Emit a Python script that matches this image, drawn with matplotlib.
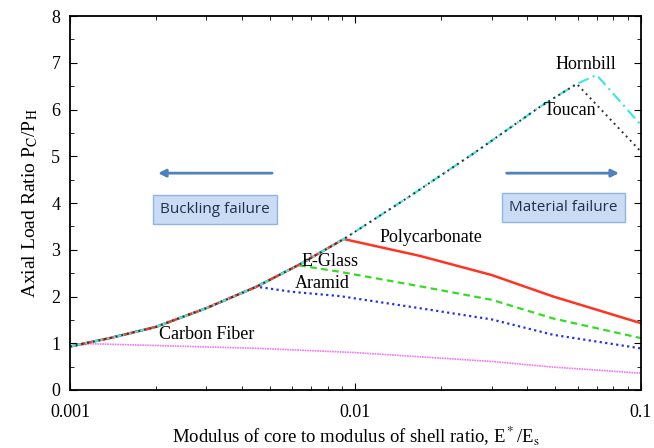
import numpy as np
import matplotlib.pyplot as plt
from matplotlib.ticker import FixedLocator, MultipleLocator, NullFormatter

plt.rcParams['font.family'] = ['Liberation Serif', 'DejaVu Serif']
plt.rcParams['mathtext.fontset'] = 'stix'

# curva de flambagem comum (parte ascendente)
buckling_x = [0.001, 0.0014, 0.002, 0.003, 0.0045, 0.0063, 0.0091, 0.0151, 0.0259, 0.0443, 0.0596, 0.070]
buckling_y = [0.93, 1.12, 1.35, 1.75, 2.21, 2.67, 3.23, 4.10, 5.06, 6.06, 6.55, 6.74]

# ramos de falha do material
hornbill_x = [0.070, 0.1]
hornbill_y = [6.74, 5.67]
toucan_x = [0.0596, 0.1]
toucan_y = [6.55, 5.10]
poly_x = [0.0091, 0.0168, 0.03, 0.0493, 0.1]
poly_y = [3.23, 2.87, 2.46, 2.00, 1.43]
eglass_x = [0.0063, 0.0088, 0.0168, 0.03, 0.0493, 0.1]
eglass_y = [2.67, 2.53, 2.22, 1.93, 1.53, 1.11]
aramid_x = [0.0045, 0.006, 0.0088, 0.0168, 0.03, 0.0493, 0.1]
aramid_y = [2.21, 2.10, 2.01, 1.75, 1.51, 1.18, 0.89]
carbon_x = [0.00118, 0.0046, 0.01, 0.0168, 0.03, 0.0493, 0.1]
carbon_y = [0.99, 0.89, 0.80, 0.71, 0.61, 0.49, 0.36]


def serie(bx, by):
    # junta o trecho de flambagem ate o ponto de ruptura com o ramo
    bx0 = bx[0]
    xs = [x for x in buckling_x if x < bx0]
    ys = buckling_y[:len(xs)]
    return np.array(xs + list(bx)), np.array(ys + list(by))


fig = plt.figure(figsize=(6.54, 4.48), dpi=100)
ax = fig.add_axes([0.107, 0.1295, 0.873, 0.8345])

x, y = serie(carbon_x, carbon_y)
ax.plot(x, y, color='#ee77ee', lw=1.2, ls=(0, (1, 0.5)))
x, y = serie(aramid_x, aramid_y)
ax.plot(x, y, color='#2233ee', lw=1.6, ls=(0, (1, 1.5)))
x, y = serie(eglass_x, eglass_y)
ax.plot(x, y, color='#33dd22', lw=1.6, ls=(0, (3, 2)))
x, y = serie(poly_x, poly_y)
ax.plot(x, y, color='#ff3322', lw=1.8)
x, y = serie(hornbill_x, hornbill_y)
ax.plot(x, y, color='#44e5e5', lw=1.6, ls=(0, (5, 2, 1, 2)))
x, y = serie(toucan_x, toucan_y)
ax.plot(x, y, color='#333333', lw=1.4, ls=(0, (1, 2)))

ax.set_xscale('log')
ax.set_xlim(0.001, 0.1)
ax.set_ylim(0, 8)
ax.xaxis.set_major_locator(FixedLocator([0.001, 0.01, 0.1]))
ax.set_xticklabels(['0.001', '0.01', '0.1'])
ax.xaxis.set_minor_formatter(NullFormatter())
ax.yaxis.set_major_locator(MultipleLocator(1))
ax.yaxis.set_minor_locator(MultipleLocator(0.5))
ax.tick_params(which='both', direction='in', top=True, right=True, labelsize=13)
ax.tick_params(which='major', length=5)
ax.tick_params(which='minor', length=3)
ax.tick_params(axis='x', pad=10)
ax.tick_params(axis='y', pad=7)
for s in ax.spines.values():
    s.set_linewidth(1.3)

ax.set_ylabel('Axial Load Ratio P$_\\mathrm{C}$/P$_\\mathrm{H}$', fontsize=14, labelpad=8)
ax.set_xlabel('Modulus of core to modulus of shell ratio, E$^*$/E$_\\mathrm{s}$', fontsize=13.5, labelpad=3)

ax.text(0.0641, 6.97, 'Hornbill', ha='center', va='center', fontsize=13)
ax.text(0.0563, 5.97, 'Toucan', ha='center', va='center', fontsize=13)
ax.text(0.01837, 3.27, 'Polycarbonate', ha='center', va='center', fontsize=13)
ax.text(0.00815, 2.76, 'E-Glass', ha='center', va='center', fontsize=13)
ax.text(0.00763, 2.27, 'Aramid', ha='center', va='center', fontsize=13)
ax.text(0.00302, 1.18, 'Carbon Fiber', ha='center', va='center', fontsize=13)

caixa = dict(boxstyle='square,pad=0.45', facecolor='#cadcf4', edgecolor='#8fb4e3', lw=1)
ax.text(0.00322, 3.86, 'Buckling failure', ha='center', va='center', fontsize=11,
        family='Open Sans', color='#1f2f4f', bbox=caixa)
ax.text(0.0536, 3.91, 'Material failure', ha='center', va='center', fontsize=11,
        family='Open Sans', color='#1f2f4f', bbox=caixa)

seta = dict(arrowstyle='-|>', color='#4f81bd', lw=2, mutation_scale=11)
ax.annotate('', xy=(0.00199, 4.64), xytext=(0.00522, 4.64), arrowprops=seta)
ax.annotate('', xy=(0.0857, 4.64), xytext=(0.0331, 4.64), arrowprops=seta)

fig.savefig('out.png', dpi=100)
